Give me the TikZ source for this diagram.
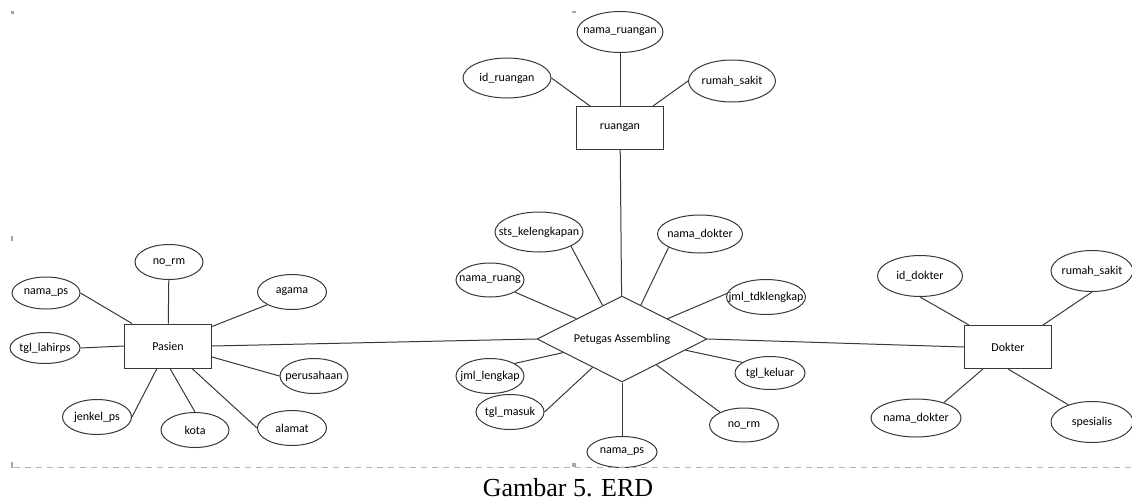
\documentclass[tikz,border=0pt]{standalone}
\usepackage{fontspec}
\setmainfont{Carlito}
\newfontfamily\capfont{Liberation Serif}
\usetikzlibrary{shapes.geometric}
\colorlet{ln}{black!78}
\tikzset{
  ent/.style = {draw, rectangle, minimum width=87pt, minimum height=43pt, inner sep=0pt},
  attr/.style 2 args = {draw, ellipse, inner sep=0pt, minimum width=#1pt, minimum height=#2pt},
  rel/.style = {draw, diamond, aspect=2, minimum width=170pt, minimum height=86pt, inner sep=0pt},
  handle/.style = {fill=gray!70, draw=none}
}
\newcommand{\fld}[1]{\makebox[0pt]{#1}}

\begin{document}
\begin{tikzpicture}[x=1pt,y=-1pt,line width=1pt,color=ln,
    every node/.style={text=black,font=\fontsize{12}{14}\selectfont}]
  \useasboundingbox (0,0) rectangle (1132,501);
  % ruangan
  \node[ent] (ruangan) at (620,128) {ruangan};
  \node[attr={86}{41}] (nm_ruangan) at (620,32) {\fld{nama\_ruangan}};
  \node[attr={88}{40}] (id_ruangan) at (507,78) {\fld{id\_ruangan}};
  \node[attr={87}{42}] (rs_ruangan) at (732,81) {\fld{rumah\_sakit}};
  % relasi
  \node[rel] (petugas) at (622,339) {Petugas Assembling};
  \node[attr={88}{40}] (sts) at (539,232) {\fld{sts\_kelengkapan}};
  \node[attr={85}{38}] (nm_dokter_r) at (700,234) {\fld{nama\_dokter}};
  \node[attr={68}{34}] (nm_ruang) at (490,280) {\fld{nama\_ruang}};
  \node[attr={79}{35}] (jml_tdk) at (766,297) {\fld{jml\_tdklengkap}};
  \node[attr={68}{35}] (jml_lengkap) at (490,376) {\fld{jml\_lengkap}};
  \node[attr={68}{35}] (tgl_masuk) at (510,412) {\fld{tgl\_masuk}};
  \node[attr={70}{31}] (nm_ps_r) at (622,452) {\fld{nama\_ps}};
  \node[attr={70}{33}] (tgl_keluar) at (770,373) {\fld{tgl\_keluar}};
  \node[attr={69}{34}] (no_rm_r) at (744,425) {\fld{no\_rm}};
  % pasien
  \node[ent,minimum height=44pt] (pasien) at (168,346) {Pasien};
  \node[attr={68}{35}] (no_rm_p) at (169,262) {\fld{no\_rm}};
  \node[attr={68}{32}] (nm_ps_p) at (46,293) {\fld{nama\_ps}};
  \node[attr={70}{31}] (tgl_lahir) at (45,348) {\fld{tgl\_lahirps}};
  \node[attr={69}{35}] (jenkel) at (97,417) {\fld{jenkel\_ps}};
  \node[attr={68}{35}] (kota) at (195,430) {\fld{kota}};
  \node[attr={69}{35}] (alamat) at (292,428) {\fld{alamat}};
  \node[attr={68}{35}] (perusahaan) at (314,376) {\fld{perusahaan}};
  \node[attr={69}{35}] (agama) at (292,292) {\fld{agama}};
  % dokter
  \node[ent] (dokter) at (1008,347) {Dokter};
  \node[attr={85}{41}] (id_dokter) at (920,276) {\fld{id\_dokter}};
  \node[attr={82}{41}] (rs_dokter) at (1092,271) {\fld{rumah\_sakit}};
  \node[attr={90}{38}] (nm_dokter_d) at (916,418) {\fld{nama\_dokter}};
  \node[attr={82}{41}] (spesialis) at (1092,422) {\fld{spesialis}};

  \draw (nm_ruangan) -- (ruangan);
  \draw (id_ruangan.east) -- ([xshift=14pt]ruangan.north west);
  \draw (rs_ruangan.west) -- ([xshift=-11pt]ruangan.north east);
  \draw (ruangan) -- (petugas);

  \draw (nm_ps_p.east) -- ([xshift=8pt]pasien.north west);
  \draw (no_rm_p) -- (pasien);
  \draw (agama.south west) -- ([yshift=-3pt]pasien.north east);
  \draw (tgl_lahir.east) -- (pasien.west);
  \draw (jenkel.east) -- ([xshift=-11pt]pasien.south);
  \draw (kota.north) -- ([xshift=2pt]pasien.south);
  \draw (alamat.west) -- ([xshift=24pt]pasien.south);
  \draw (perusahaan.west) -- ([yshift=-11pt]pasien.east);
  \draw (pasien.east) -- (petugas.west);

  \draw (sts.-24) -- (petugas.120);
  \draw (nm_dokter_r.203) -- (petugas.61);
  \draw (nm_ruang.-26) -- (petugas.156);
  \draw (jml_tdk.175) -- (petugas.24);
  \draw (jml_lengkap.27) -- (petugas.193);
  \draw (tgl_masuk.east) -- (petugas.224);
  \draw (nm_ps_r) -- (petugas);
  \draw (tgl_keluar.159) -- (petugas.350);
  \draw (no_rm_r.152) -- (petugas.323);
  \draw (petugas.east) -- (dokter.west);

  \draw (id_dokter.south) -- ([xshift=5pt]dokter.north west);
  \draw (rs_dokter.south) -- ([xshift=-9pt]dokter.north east);
  \draw (nm_dokter_d.29) -- ([xshift=-25pt]dokter.south);
  \draw (spesialis.144) -- (dokter.south);

  % frame remnants
  \draw[gray!60,line width=0.8pt,dash pattern=on 6pt off 5pt] (14,467) -- (1132,467);
  \fill[handle] (11,11) rectangle (14,14);
  \fill[handle] (11,236) rectangle (13,241);
  \fill[handle] (11,462) rectangle (13,468);
  \fill[handle] (572,11) rectangle (576,13);
  \fill[handle] (572,463) rectangle (576,467);

  \node[anchor=base,font=\capfont\fontsize{26}{30}\selectfont] (cap) at (568,496) {Gambar 5. ERD};
\end{tikzpicture}
\end{document}
